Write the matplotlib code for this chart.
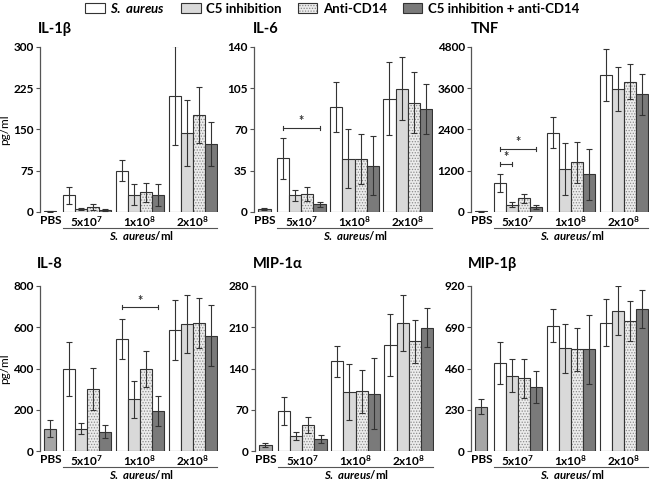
import matplotlib
matplotlib.use('Agg')
import matplotlib.pyplot as plt
from matplotlib.patches import Patch
import numpy as np

plt.rcParams['font.family'] = ['Lato', 'Open Sans', 'DejaVu Sans']
plt.rcParams['font.weight'] = 'bold'
plt.rcParams['mathtext.fontset'] = 'custom'
plt.rcParams['mathtext.rm'] = 'Lato:bold'
plt.rcParams['mathtext.it'] = 'Lato:italic:bold'
plt.rcParams['mathtext.bf'] = 'Lato:bold'
plt.rcParams['hatch.linewidth'] = 0.6

# Data: per dose group, values for the 4 treatments
groups = ['5x10$^7$', '1x10$^8$', '2x10$^8$']
treatments = ['S. aureus', 'C5 inhibition', 'Anti-CD14', 'C5 inhibition + anti-CD14']

il1b_pbs = [1, 0.5]
il1b_mean = [[30, 6, 9, 4], [75, 31, 36, 30], [211, 144, 176, 124]]
il1b_err = [[15, 2, 5, 2], [19, 19, 17, 20], [90, 60, 50, 40]]

il6_pbs = [2.8, 0.8]
il6_mean = [[45.5, 14, 15, 6.5], [89, 45, 45, 39], [96, 104.5, 92.5, 87]]
il6_err = [[17.5, 4.5, 6, 2], [21, 25, 21, 25], [31, 27, 26, 21]]

tnf_pbs = [15, 10]
tnf_mean = [[840, 210, 395, 145], [2300, 1240, 1440, 1090], [3970, 3565, 3780, 3420]]
tnf_err = [[265, 70, 135, 60], [455, 750, 600, 740], [750, 640, 510, 590]]

il8_pbs = [109, 40]
il8_mean = [[397, 109, 301, 94], [544, 250, 397, 193], [587, 616, 619, 560]]
il8_err = [[130, 28, 100, 30], [98, 90, 87, 74], [146, 140, 122, 148]]

mip1a_pbs = [10, 3.5]
mip1a_mean = [[68, 25, 44, 20], [152, 100, 101, 97], [180, 217, 186, 209]]
mip1a_err = [[24, 7, 14, 6.5], [27, 48, 36, 60], [53, 48, 36, 33]]

mip1b_pbs = [248, 40]
mip1b_mean = [[491, 420, 405, 357], [699, 572, 566, 566], [716, 783, 725, 790]]
mip1b_err = [[116, 92, 108, 88], [94, 136, 122, 190], [130, 138, 114, 105]]

# Styles
face = ['white', '#d9d9d9', '#ececec', '#7a7a7a']
pbs_color = '#a6a6a6'
edge = '#333333'
group_pos = [0, 4.35, 8.7]
pbs_pos = -3.0
offsets = [-1.5, -0.5, 0.5, 1.5]
fs = 8.5

fig = plt.figure(figsize=(6.5, 4.82), dpi=100)


def px_rect(x0, y_top, x1, y_bot):
    return [x0 / 650, 1 - y_bot / 482, (x1 - x0) / 650, (y_bot - y_top) / 482]


def draw_panel(rect, title, title_x, title_y, yticks, pbs, means, errs, sigs, ylabel=False):
    ax = fig.add_axes(rect)

    # PBS control bar
    ax.bar(pbs_pos, pbs[0], width=1, color=pbs_color, edgecolor=edge, linewidth=0.8, zorder=2)
    ax.errorbar(pbs_pos, pbs[0], yerr=pbs[1], fmt='none', ecolor=edge,
                elinewidth=0.8, capsize=2.5, capthick=0.8, zorder=3)

    # Treatment bars
    for t in range(4):
        xs = [g + offsets[t] for g in group_pos]
        vals = [m[t] for m in means]
        ers = [e[t] for e in errs]
        if t == 2:
            ax.bar(xs, vals, width=1, color=face[t], edgecolor='#8c8c8c', linewidth=0,
                   hatch='......', zorder=2)
            ax.bar(xs, vals, width=1, fill=False, edgecolor=edge, linewidth=0.8, zorder=2)
        else:
            ax.bar(xs, vals, width=1, color=face[t], edgecolor=edge, linewidth=0.8, zorder=2)
        ax.errorbar(xs, vals, yerr=ers, fmt='none', ecolor=edge,
                    elinewidth=0.8, capsize=2.5, capthick=0.8, zorder=3)

    # Significance brackets
    for x0, x1, y in sigs:
        ax.plot([x0, x1], [y, y], color=edge, lw=0.8, zorder=3)
        for xx in (x0, x1):
            ax.plot([xx, xx], [y - yticks[-1] * 0.012, y + yticks[-1] * 0.012],
                    color=edge, lw=0.8, zorder=3)
        ax.text((x0 + x1) / 2, y + yticks[-1] * 0.004, '*', ha='center', va='bottom',
                fontsize=9, color=edge)

    ax.set_ylim(0, yticks[-1])
    ax.set_xlim(-3.85, 10.75)
    ax.set_yticks(yticks)
    ax.set_xticks([pbs_pos] + group_pos)
    ax.set_xticklabels(['PBS'] + groups)
    ax.tick_params(axis='x', length=0, pad=2.0, labelsize=fs)
    ax.tick_params(axis='y', length=3, width=0.8, color='#555555', labelsize=fs, pad=1.5)
    for s in ['top', 'right', 'bottom']:
        ax.spines[s].set_visible(False)
    ax.spines['left'].set_color('#555555')
    ax.spines['left'].set_linewidth(0.9)

    # underline + x label
    tr = ax.get_xaxis_transform()
    ax.plot([group_pos[0] - 2, group_pos[2] + 2], [-0.095, -0.095], color='#555555',
            lw=0.8, transform=tr, clip_on=False)
    ax.text(group_pos[1] + 0.1, -0.105, r'$\it{S.\ aureus}$/ml', transform=tr,
            ha='center', va='top', fontsize=8.2)

    if ylabel:
        ax.set_ylabel('pg/ml', fontsize=fs, fontweight='normal', labelpad=2)

    fig.text(title_x / 650, 1 - title_y / 482, title, ha='left', va='center',
             fontsize=10.5, fontweight='bold')
    return ax


top_y = (46.7, 212)
bot_y = (286, 451)

draw_panel(px_rect(40, top_y[0], 218, top_y[1]), 'IL-1β', 38, 29,
           [0, 75, 150, 225, 300], il1b_pbs, il1b_mean, il1b_err, [], ylabel=True)
draw_panel(px_rect(254, top_y[0], 433, top_y[1]), 'IL-6', 253, 29,
           [0, 35, 70, 105, 140], il6_pbs, il6_mean, il6_err, [(-1.5, 1.5, 71.5)])
draw_panel(px_rect(471, top_y[0], 649, top_y[1]), 'TNF', 471, 29,
           [0, 1200, 2400, 3600, 4800], tnf_pbs, tnf_mean, tnf_err,
           [(-1.5, -0.5, 1400), (-1.5, 1.5, 1835)])
draw_panel(px_rect(40, bot_y[0], 218, bot_y[1]), 'IL-8', 37, 264,
           [0, 200, 400, 600, 800], il8_pbs, il8_mean, il8_err,
           [(group_pos[1] - 1.5, group_pos[1] + 1.5, 696)], ylabel=True)
draw_panel(px_rect(255, bot_y[0], 434, bot_y[1]), 'MIP-1α', 253, 264,
           [0, 70, 140, 210, 280], mip1a_pbs, mip1a_mean, mip1a_err, [])
draw_panel(px_rect(471, bot_y[0], 649, bot_y[1]), 'MIP-1β', 468, 264,
           [0, 230, 460, 690, 920], mip1b_pbs, mip1b_mean, mip1b_err, [])

# Legend along the top
handles = [
    Patch(facecolor=face[0], edgecolor=edge, linewidth=0.8),
    Patch(facecolor=face[1], edgecolor=edge, linewidth=0.8),
    (Patch(facecolor=face[2], edgecolor='#8c8c8c', linewidth=0, hatch='......'),
     Patch(fill=False, edgecolor=edge, linewidth=0.8)),
    Patch(facecolor=face[3], edgecolor=edge, linewidth=0.8),
]
labels = [r'$\it{S.\ aureus}$', treatments[1], treatments[2], treatments[3]]
fig.legend(handles, labels, loc='center', bbox_to_anchor=(0.511, 1 - 8 / 482), ncol=4,
           frameon=False, fontsize=9.5, handlelength=1.5, handleheight=0.8,
           handletextpad=0.4, columnspacing=1.2, borderpad=0)

fig.savefig('out.png', dpi=100)
